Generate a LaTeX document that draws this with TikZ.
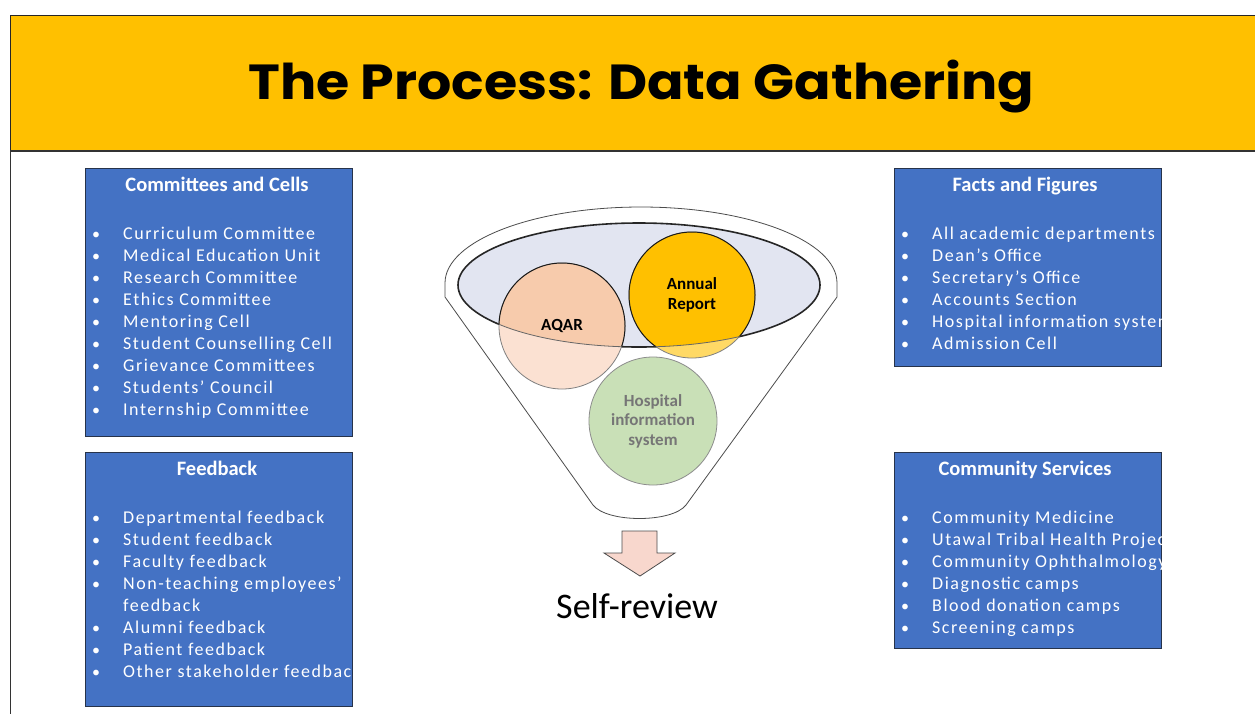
\documentclass[tikz,border=0pt]{standalone}
\usepackage{fontspec}
\usepackage{graphicx}
\setmainfont{Carlito}
\newfontfamily\spacedfont[LetterSpace=8.5]{Carlito}
\newfontfamily\titlefont{Poppins}
\definecolor{banner}{HTML}{FFC000}
\definecolor{panelblue}{HTML}{4472C4}
\definecolor{panelline}{HTML}{27334A}
\definecolor{mouth}{HTML}{E2E5F1}
\definecolor{aqarfill}{HTML}{F7CBAC}
\definecolor{aqarlight}{HTML}{FBE1D2}
\definecolor{arfill}{HTML}{FFC000}
\definecolor{arlight}{HTML}{FFD965}
\definecolor{hisfill}{HTML}{C9E0B7}
\definecolor{histext}{HTML}{767676}
\definecolor{arrowfill}{HTML}{F8D7CD}
\tikzset{
  panel/.style={draw=panelline, line width=1.4pt, fill=panelblue, rectangle, inner sep=0pt, anchor=north west},
  paneltitle/.style={text=white, inner sep=0pt, anchor=base, font=\fontsize{20.5}{23}\selectfont\bfseries},
  itemtext/.style={text=white, inner sep=0pt, anchor=base west, font=\spacedfont\fontsize{18}{22}\selectfont},
  bulletmark/.style={text=white, inner sep=0pt, anchor=base, font=\fontsize{16}{22}\selectfont},
  disc/.style={circle, minimum size=126pt, inner sep=0pt},
  disclabel/.style={align=center, inner sep=0pt, font=\fontsize{17}{19.5}\selectfont\bfseries},
}
\begin{document}
\begin{tikzpicture}[x=1pt,y=-1pt]
\useasboundingbox (0,0) rectangle (1255,713);
% banner
\fill[banner] (10,15) rectangle (1256,151);
\draw[black!85, line width=1pt] (10,151) -- (10,15) -- (1256,15);
\draw[black!80, line width=2pt] (10,150.5) -- (1256,150.5);
\draw[black!80, line width=1pt] (10.5,151) -- (10.5,714);
\node[anchor=north west, inner sep=0pt] (title) at (248,60)
  {\resizebox*{786pt}{53pt}{\titlefont\bfseries The Process: Data Gathering}};

% panels
\node[panel, minimum width=267pt, minimum height=268pt] (committees) at (85,168) {};
\node[panel, minimum width=267pt, minimum height=254pt] (feedback) at (85,452) {};
\node[panel, minimum width=267pt, minimum height=198pt] (facts) at (894,168) {};
\node[panel, minimum width=267pt, minimum height=196pt] (community) at (894,452) {};

\begin{scope}
\clip (committees.north west) rectangle (committees.south east);
\node[paneltitle] (committeesT) at (217,191) {Committees and Cells};
\foreach \t [count=\i from 0] in {Curriculum Committee, Medical Education Unit, Research Committee, Ethics Committee, Mentoring Cell, Student Counselling Cell, Grievance Committees, Students’ Council, Internship Committee}{
  \node[bulletmark] (cb\i) at (96,239+22*\i) {\textbullet};
  \node[itemtext] (ct\i) at (123,239+22*\i) {\t};
}
\end{scope}

\begin{scope}
\clip (feedback.north west) rectangle (feedback.south east);
\node[paneltitle] (feedbackT) at (217,475) {Feedback};
\foreach \t/\k [count=\i from 0] in {Departmental feedback/0, Student feedback/1, Faculty feedback/2, Non-teaching employees’/3, Alumni feedback/5, Patient feedback/6, Other stakeholder feedback/7}{
  \node[bulletmark] (fb\i) at (96,523+22*\k) {\textbullet};
  \node[itemtext] (ft\i) at (123,523+22*\k) {\t};
}
\node[itemtext] (ftcont) at (123,611) {feedback};
\end{scope}

\begin{scope}
\clip (facts.north west) rectangle (facts.south east);
\node[paneltitle] (factsT) at (1025,191) {Facts and Figures};
\foreach \t [count=\i from 0] in {All academic departments, Dean’s Office, Secretary’s Office, Accounts Section, Hospital information system, Admission Cell}{
  \node[bulletmark] (ab\i) at (905,239+22*\i) {\textbullet};
  \node[itemtext] (at\i) at (932,239+22*\i) {\t};
}
\end{scope}

\begin{scope}
\clip (community.north west) rectangle (community.south east);
\node[paneltitle] (communityT) at (1025,475) {Community Services};
\foreach \t [count=\i from 0] in {Community Medicine, Utawal Tribal Health Project, Community Ophthalmology, Diagnostic camps, Blood donation camps, Screening camps}{
  \node[bulletmark] (sb\i) at (905,523+22*\i) {\textbullet};
  \node[itemtext] (st\i) at (932,523+22*\i) {\t};
}
\end{scope}

% funnel
\draw[fill=white, draw=black!70, line width=0.8pt]
  (445,297) -- (445,283) arc[start angle=180, end angle=360, x radius=196, y radius=76]
  -- (837,297) -- (686,505) .. controls (672,523) and (607,523) .. (593,505) -- cycle;
\draw[fill=mouth, draw=black!85, line width=1.6pt] (639,285) ellipse[x radius=181, y radius=62];

% circles (light part)
\node[disc, fill=aqarlight, draw=black!50, line width=0.8pt] (aqar) at (562,326) {};
\node[disc, fill=arlight, draw=black!50, line width=0.8pt] (annual) at (692,295) {};
\node[disc, minimum size=128pt, fill=hisfill, draw=black!45, line width=0.8pt] (his) at (653,421) {};
% circles inside mouth
\begin{scope}
\clip (639,285) ellipse[x radius=181, y radius=62];
\fill[aqarfill] (aqar.center) circle[radius=63];
\fill[arfill] (annual.center) circle[radius=63];
\draw[black!90, line width=1pt] (aqar.center) circle[radius=63];
\draw[black!90, line width=1pt] (annual.center) circle[radius=63];
\end{scope}
\begin{scope}
\clip (aqar.center) circle[radius=63] (annual.center) circle[radius=63];
\draw[black!60, line width=0.8pt] (639,285) ellipse[x radius=181, y radius=62];
\end{scope}
\node[disclabel] (aqarL) at (562,326) {AQAR};
\node[disclabel] (annualL) at (692,295) {Annual\\Report};
\node[disclabel, text=histext] (hisL) at (653,421) {Hospital\\information\\system};

% arrow
\draw[fill=arrowfill, draw=black!70, line width=0.8pt]
  (622,531) -- (657,531) -- (657,553) -- (675,553) -- (640,576) -- (604,553) -- (622,553) -- cycle;
\node[anchor=base, inner sep=0pt, font=\fontsize{36}{42}\selectfont] (selfreview) at (637,618) {Self-review};
\end{tikzpicture}
\end{document}
